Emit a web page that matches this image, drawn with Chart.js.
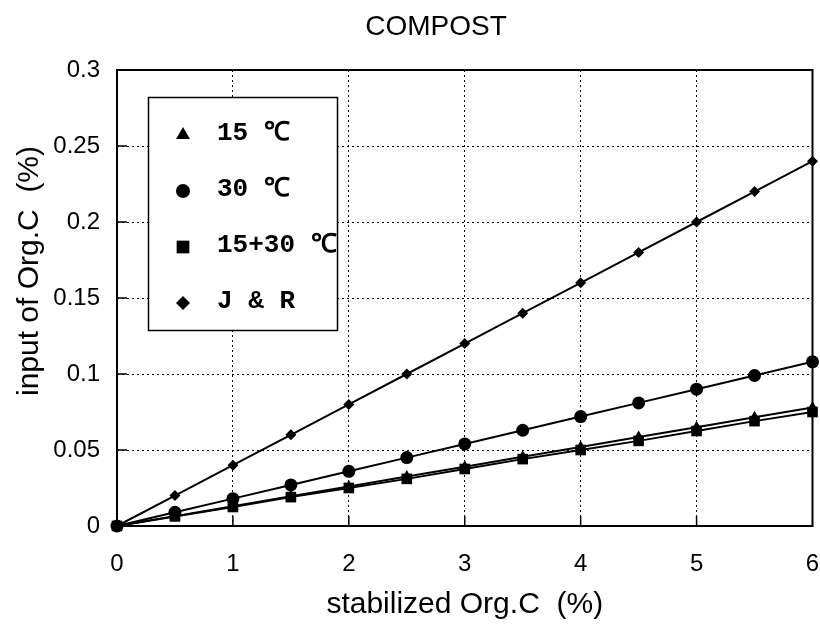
<!DOCTYPE html>
<html><head><meta charset="utf-8">
<script src="https://cdn.jsdelivr.net/npm/chart.js@4/dist/chart.umd.min.js"></script>
<style>html,body{margin:0;padding:0;background:#fff}</style>
</head><body>
<canvas id="c" width="820" height="626"></canvas>
<script>
const chartTitle = 'COMPOST';
const xAxisTitle = 'stabilized Org.C  (%)';
const yAxisTitle = 'input of Org.C  (%)';
const xValues = [0, 0.5, 1, 1.5, 2, 2.5, 3, 3.5, 4, 4.5, 5, 5.5, 6];
const series15 = [0, 0.0065, 0.013, 0.0195, 0.026, 0.0325, 0.039, 0.0455, 0.052, 0.0585, 0.065, 0.0715, 0.078];
const series30 = [0, 0.009, 0.018, 0.027, 0.036, 0.045, 0.054, 0.063, 0.072, 0.081, 0.09, 0.099, 0.108];
const series1530 = [0, 0.0063, 0.0125, 0.019, 0.025, 0.031, 0.0375, 0.044, 0.05, 0.056, 0.0625, 0.069, 0.075];
const seriesJR = [0, 0.02, 0.04, 0.06, 0.08, 0.1, 0.12, 0.14, 0.16, 0.18, 0.2, 0.22, 0.24];
const seriesNames = ['15 ℃', '30 ℃', '15+30 ℃', 'J & R'];
const xTickLabels = ['0', '1', '2', '3', '4', '5', '6'];
const yTickLabels = ['0', '0.05', '0.1', '0.15', '0.2', '0.25', '0.3'];

const toPts = arr => xValues.map((x, i) => ({x: x, y: arr[i]}));
const styles = ['triangle', 'circle', 'rect', 'rectRot'];
const radii = [6.5, 6.5, 7.5, 5.5];
const allSeries = [series15, series30, series1530, seriesJR];

const datasets = allSeries.map((s, i) => ({
  label: seriesNames[i],
  data: toPts(s),
  borderColor: '#000',
  backgroundColor: '#000',
  borderWidth: 2,
  pointStyle: styles[i],
  pointRadius: radii[i],
  pointBorderWidth: 0,
  pointBackgroundColor: '#000',
  clip: false,
  tension: 0
}));

function drawMarker(ctx, style, r, x, y) {
  ctx.save();
  ctx.fillStyle = '#000';
  ctx.beginPath();
  if (style === 'circle') {
    ctx.arc(x, y, r, 0, Math.PI * 2);
  } else if (style === 'rect') {
    const s = r * Math.SQRT1_2;
    ctx.rect(x - s, y - s, 2 * s, 2 * s);
  } else if (style === 'rectRot') {
    ctx.moveTo(x, y - r); ctx.lineTo(x + r, y); ctx.lineTo(x, y + r); ctx.lineTo(x - r, y);
    ctx.closePath();
  } else if (style === 'triangle') {
    ctx.moveTo(x, y - r); ctx.lineTo(x + r * 0.866, y + r * 0.5); ctx.lineTo(x - r * 0.866, y + r * 0.5);
    ctx.closePath();
  }
  ctx.fill();
  ctx.restore();
}

const decor = {
  id: 'decor',
  afterDatasetsDraw(chart) {
    const {ctx, chartArea: a, scales: {x, y}} = chart;
    ctx.save();
    ctx.strokeStyle = '#000';
    ctx.lineWidth = 2;
    ctx.strokeRect(a.left, a.top, a.right - a.left, a.bottom - a.top);
    ctx.lineWidth = 1.5;
    ctx.beginPath();
    for (let v = 1; v <= 5; v++) {
      const px = x.getPixelForValue(v);
      ctx.moveTo(px, a.bottom); ctx.lineTo(px, a.bottom - 10);
    }
    for (let i = 1; i <= 5; i++) {
      const py = y.getPixelForValue(i * 0.05);
      ctx.moveTo(a.left, py); ctx.lineTo(a.left + 10, py);
    }
    ctx.stroke();
    ctx.fillStyle = '#fff';
    ctx.fillRect(148, 97, 189, 233);
    ctx.strokeStyle = '#000';
    ctx.lineWidth = 1.5;
    ctx.strokeRect(148.5, 97.5, 189, 233);
    const ly = [133, 189, 245, 301];
    const lr = [8, 7, 9, 7];
    ctx.font = 'bold 26px "Liberation Mono", monospace';
    ctx.textBaseline = 'middle';
    ctx.textAlign = 'left';
    ctx.fillStyle = '#000';
    seriesNames.forEach((n, i) => {
      drawMarker(ctx, styles[i], lr[i], 183, ly[i] + 2);
      ctx.fillText(n, 217, ly[i]);
    });
    ctx.font = '28px "Liberation Sans", Arial, sans-serif';
    ctx.textAlign = 'center';
    ctx.fillText(chartTitle, 436, 27);
    ctx.save();
    ctx.translate(30, 271);
    ctx.rotate(-Math.PI / 2);
    ctx.font = '30px "Liberation Sans", Arial, sans-serif';
    ctx.fillText(yAxisTitle, 0, 0);
    ctx.restore();
    ctx.restore();
  }
};

new Chart(document.getElementById('c'), {
  type: 'line',
  data: {datasets},
  options: {
    responsive: false,
    animation: false,
    layout: {padding: {top: 70, right: 3, left: 0, bottom: 0}},
    plugins: {legend: {display: false}, title: {display: false}, tooltip: {enabled: false}},
    scales: {
      x: {
        type: 'linear', min: 0, max: 6,
        afterFit: s => { s.height = 100; s.paddingLeft = 0; s.paddingRight = 0; },
        ticks: {stepSize: 1, color: '#000', padding: 24,
          font: {family: '"Liberation Sans", Arial, sans-serif', size: 24},
          callback: (v, i) => xTickLabels[i]},
        grid: {drawTicks: false, lineWidth: 1,
          color: c => (c.tick && (c.tick.value === 0 || c.tick.value === 6)) ? 'rgba(0,0,0,0)' : '#000'},
        border: {display: false, dash: [2, 3]},
        title: {display: true, text: xAxisTitle, color: '#000',
          font: {family: '"Liberation Sans", Arial, sans-serif', size: 30},
          padding: {top: 0, bottom: 3}}
      },
      y: {
        type: 'linear', min: 0, max: 0.3,
        afterFit: s => { s.width = 117; s.paddingTop = 0; s.paddingBottom = 0; },
        ticks: {stepSize: 0.05, color: '#000', padding: 17,
          font: {family: '"Liberation Sans", Arial, sans-serif', size: 24},
          callback: (v, i) => yTickLabels[i]},
        grid: {drawTicks: false, lineWidth: 1,
          color: c => (c.tick && (c.index === 0 || c.index === 6)) ? 'rgba(0,0,0,0)' : '#000'},
        border: {display: false, dash: [2, 3]}
      }
    }
  },
  plugins: [decor]
});
</script>
</body></html>
